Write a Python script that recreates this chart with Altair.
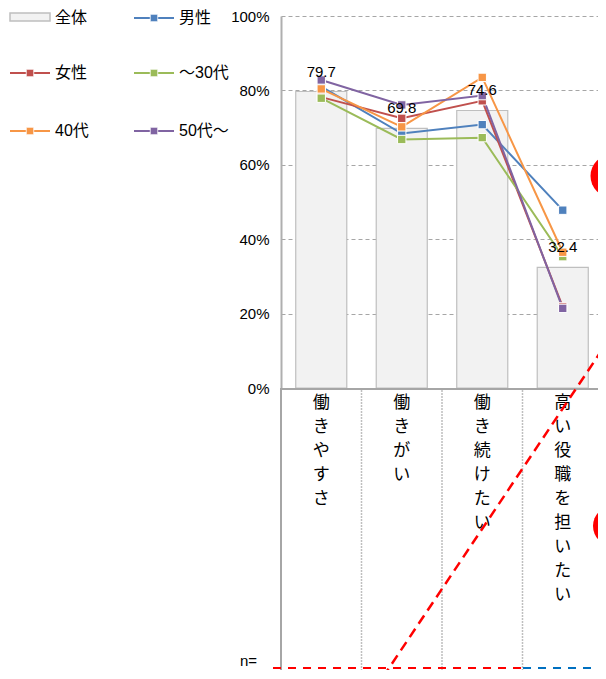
import altair as alt
import pandas as pd

# ---------------- data ----------------
categories = ["働きやすさ", "働きがい", "働き続けたい", "高い役職を担いたい"]
total = [79.7, 69.8, 74.6, 32.4]

series_names = ["男性", "女性", "～30代", "40代", "50代～"]
male = [81.0, 68.4, 70.8, 47.8]
female = [78.2, 72.5, 77.2, 21.8]
under30 = [77.9, 66.8, 67.3, 35.3]
age40 = [80.4, 70.2, 83.5, 36.5]
age50 = [82.8, 76.1, 78.6, 21.4]
series_values = [male, female, under30, age40, age50]
series_colors = ["#4F81BD", "#C0504D", "#9BBB59", "#F79646", "#8064A2"]

y_ticks = [0, 20, 40, 60, 80, 100]

# ---------------- layout ----------------
XR = 322                      # full width of the category band range
W, H = 317, 372               # visible plot area (canvas is limited to 590 px wide)
PAD = {"left": 273, "top": 8, "right": 0, "bottom": 282}
BOTTOM = H + PAD["bottom"]    # bottom edge of the canvas, in plot coords
NUM_FONT = "Liberation Sans"
AXIS_FONT = "Liberation Sans Narrow, Liberation Sans"
JP_FONT = "Noto Sans CJK JP"

bar_df = pd.DataFrame({
    "cat": categories,
    "total": total,
    "label": ["\n".join(list(c)) for c in categories],
})
rows = []
for name, vals in zip(series_names, series_values):
    for c, v in zip(categories, vals):
        rows.append({"series": name, "cat": c, "value": v})
line_df = pd.DataFrame(rows)
one = pd.DataFrame({"k": [0]})

xscale = alt.Scale(domain=categories, range=[0, XR], paddingInner=0.366, paddingOuter=0.183)
yscale = alt.Scale(domain=[0, 100], nice=False, zero=True)
yaxis = alt.Axis(values=y_ticks, labelExpr="datum.value + '%'", grid=True,
                 gridDash=[4, 3], gridColor="#A6A6A6", gridWidth=1,
                 ticks=False, domainColor="#AFAFAF", domainWidth=2,
                 labelPadding=12, labelFont=AXIS_FONT, labelFontSize=15,
                 labelColor="#000000", title=None)
X = alt.X("cat:N", scale=xscale, sort=categories, axis=None)
color = alt.Color("series:N", scale=alt.Scale(domain=series_names, range=series_colors), legend=None)

bars = alt.Chart(bar_df).mark_bar(fill="#F2F2F2", stroke="#BFBFBF", strokeWidth=1.2).encode(
    x=X, y=alt.Y("total:Q", scale=yscale, axis=yaxis))

lines = alt.Chart(line_df).mark_line(strokeWidth=2).encode(
    x=X, y=alt.Y("value:Q", scale=yscale, axis=yaxis), color=color)

points = alt.Chart(line_df).mark_point(shape="square", filled=True, size=70, opacity=1,
                                       stroke="white", strokeWidth=1).encode(
    x=X, y=alt.Y("value:Q", scale=yscale, axis=yaxis), color=color)

vlabels = alt.Chart(bar_df).mark_text(dy=-20, fontSize=15, font=NUM_FONT, color="#000000").encode(
    x=X, y=alt.Y("total:Q", scale=yscale, axis=yaxis), text=alt.Text("total:Q", format=".1f"))

catlabels = alt.Chart(bar_df).mark_text(baseline="top", lineBreak="\n", lineHeight=24,
                                         fontSize=17, font=JP_FONT, color="#000000").encode(
    x=X, y=alt.value(379), text="label:N")

# ---------------- table frame below the plot ----------------
step = XR / len(categories)
deco = []
def rule(x1, y1, x2, y2, **kw):
    return alt.Chart(one).mark_rule(**kw).encode(
        x=alt.value(x1), y=alt.value(y1), x2=alt.value(x2), y2=alt.value(y2))

deco.append(rule(0, 373, XR, 373, color="#A6A6A6", strokeWidth=2))
deco.append(rule(0, 372, 0, BOTTOM, color="#A6A6A6", strokeWidth=2))
deco.append(rule(XR, 372, XR, BOTTOM, color="#A6A6A6", strokeWidth=2))
for i in range(1, len(categories)):
    deco.append(rule(step * i, 374, step * i, BOTTOM, color="#BFBFBF", strokeWidth=1.5, strokeDash=[2, 1]))

nlabel = alt.Chart(one).mark_text(align="left", baseline="middle", fontSize=15, font=NUM_FONT,
                                  text="n=").encode(x=alt.value(-41), y=alt.value(BOTTOM - 9))

# ---------------- legend ----------------
legend_layers = []
legend_names = ["全体"] + series_names
legend_cols = [None] + series_colors
row_y = [2, 57, 115]
col_x = [-271, -147]
for i, (nm, col) in enumerate(zip(legend_names, legend_cols)):
    x0 = col_x[i % 2]
    y0 = row_y[i // 2]
    if col is None:
        legend_layers.append(alt.Chart(one).mark_rect(fill="#F2F2F2", stroke="#BFBFBF", strokeWidth=1.5).encode(
            x=alt.value(x0), x2=alt.value(x0 + 40), y=alt.value(y0 - 5), y2=alt.value(y0 + 3)))
    else:
        legend_layers.append(rule(x0, y0, x0 + 40, y0, color=col, strokeWidth=2))
        legend_layers.append(alt.Chart(one).mark_point(shape="square", filled=True, size=56, opacity=1,
                                                       color=col, stroke="white", strokeWidth=0.8).encode(
            x=alt.value(x0 + 20), y=alt.value(y0)))
    legend_layers.append(alt.Chart(one).mark_text(align="left", baseline="middle", fontSize=16,
                                                  font="Liberation Sans, " + JP_FONT, text=nm,
                                                  color="#000000").encode(
        x=alt.value(x0 + 45), y=alt.value(y0)))

# ---------------- annotations ----------------
ann = []
ann.append(rule(-8, BOTTOM - 2, 242, BOTTOM - 2, color="#FF0000", strokeWidth=2, strokeDash=[8, 7]))
ann.append(rule(242, BOTTOM - 2, 330, BOTTOM - 2, color="#0070C0", strokeWidth=2, strokeDash=[8, 7]))
ann.append(rule(102, 661, 339, 307, color="#FF0000", strokeWidth=2.5, strokeDash=[10, 6]))
ann.append(alt.Chart(one).mark_point(shape="circle", filled=True, size=1849, opacity=1, color="#FF0000").encode(
    x=alt.value(331), y=alt.value(160)))
ann.append(alt.Chart(one).mark_point(shape="circle", filled=True, size=1600, opacity=1, color="#FF0000").encode(
    x=alt.value(332), y=alt.value(510)))

chart = alt.layer(
    bars, *deco, lines, points, vlabels, catlabels, nlabel, *legend_layers, *ann
).properties(
    width=W, height=H,
    autosize=alt.AutoSizeParams(type="none"),
    padding=PAD,
).configure_view(stroke=None).configure_axis(labelFontWeight="normal")

chart.save("out.html", embed_options={"renderer": "svg", "actions": False})
